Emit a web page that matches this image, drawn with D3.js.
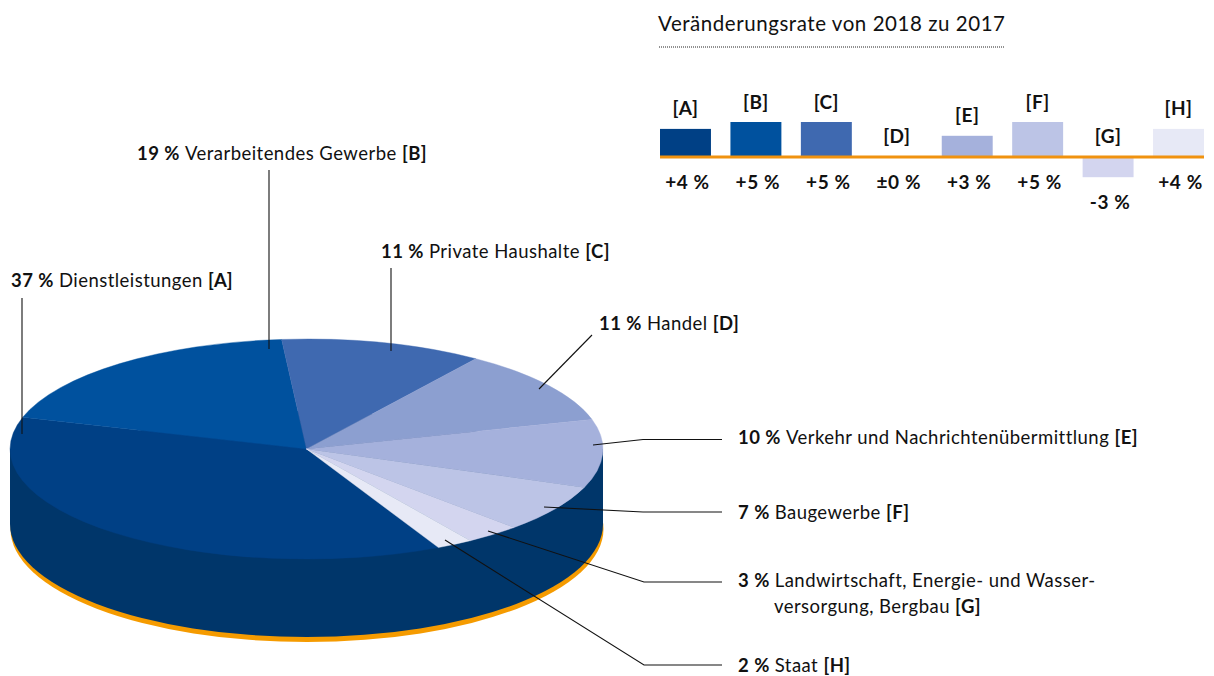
<!DOCTYPE html>
<html><head><meta charset="utf-8">
<script src="https://cdn.jsdelivr.net/npm/d3@7"></script>
<style>
html,body{margin:0;padding:0;background:#fff}
svg{display:block}
text{font-family:Lato,"Open Sans",sans-serif;fill:#111;font-size:18.5px;letter-spacing:0.46px}
</style></head><body>
<svg id="c" width="1214" height="676"></svg>
<script>
const categories=["A","B","C","D","E","F","G","H"];
const shares=[37,19,11,11,10,7,3,2];
const names=["Dienstleistungen","Verarbeitendes Gewerbe","Private Haushalte","Handel","Verkehr und Nachrichtenübermittlung","Baugewerbe","Landwirtschaft, Energie- und Wasser-","Staat"];
const changes=[4,5,5,0,3,5,-3,4];
const changeLabels=["+4 %","+5 %","+5 %","±0 %","+3 %","+5 %","-3 %","+4 %"];
const colors=["#004085","#00519e","#3f69b0","#8c9fd0","#a5b1dc","#bcc4e6","#d3d5ef","#e7e9f6"];
const title="Veränderungsrate von 2018 zu 2017";

const svg=d3.select("#c");
const cx=306.5,cy=449,rx=296.5,ry=110,baseY=524,baseRy=113;
const startDeg=153.6;
const pie=d3.pie().sort(null).value(d=>d).startAngle(startDeg*Math.PI/180).endAngle((startDeg+360)*Math.PI/180);
const arc=d3.arc().innerRadius(0).outerRadius(1);
const full=arc({startAngle:0,endAngle:2*Math.PI});

// base
svg.append("path").attr("d",full).attr("fill","#f59b00")
  .attr("transform",`translate(${cx+0.5},${baseY+5}) scale(${rx},${baseRy})`);
svg.append("path").attr("d",full).attr("fill","#00366a")
  .attr("transform",`translate(${cx},${baseY}) scale(${rx},${baseRy})`);
svg.append("rect").attr("x",cx-rx).attr("y",cy).attr("width",2*rx).attr("height",baseY-cy).attr("fill","#00366a");
// top
svg.append("g").attr("transform",`translate(${cx},${cy}) scale(${rx},${ry})`)
  .selectAll("path").data(pie(shares)).join("path")
  .attr("d",arc).attr("fill",(d,i)=>colors[i]).attr("stroke",(d,i)=>colors[i]).attr("stroke-width",0.002);

// leaders
const leaders=[
 [[22,298],[22,434]],
 [[269,170],[269,349]],
 [[391,268],[391,351]],
 [[592,335],[539,389]],
 [[593,445],[643,439.5],[722,439.5]],
 [[544,507],[643,512],[722,512]],
 [[488,531],[644,582],[722,582]],
 [[445,540],[644,665],[722,665]]];
const line=d3.line();
svg.append("g").selectAll("path").data(leaders).join("path")
  .attr("d",line).attr("fill","none").attr("stroke","#111").attr("stroke-width",1.1);

// pie labels
const labelPos=[[11,286.7],[137,159.7],[381,257.7],[599,329.7],[738,443.7],[738,518.7],[738,586.7],[738,671.7]];
const labels=svg.append("g").selectAll("text").data(categories).join("text")
  .attr("x",(d,i)=>labelPos[i][0]).attr("y",(d,i)=>labelPos[i][1]);
labels.each(function(d,i){
  const t=d3.select(this);
  t.append("tspan").attr("font-weight",700).text(shares[i]+" % ");
  t.append("tspan").text(names[i]+(d==="G"?"":" "));
  if(d!=="G") t.append("tspan").attr("font-weight",700).text("["+d+"]");
});
const g2=svg.append("text").attr("x",774).attr("y",612.7);
g2.append("tspan").text("versorgung, Bergbau ");
g2.append("tspan").attr("font-weight",700).text("[G]");

// title
svg.append("text").attr("x",658).attr("y",31).style("font-size","20.5px").style("letter-spacing","0.55px").text(title);
svg.append("line").attr("x1",659).attr("x2",1005).attr("y1",47).attr("y2",47)
  .attr("stroke","#222").attr("stroke-width",1).attr("stroke-dasharray","1 1");

// bars
const x=d3.scaleBand().domain(categories).range([660,1204]).paddingInner(19.5/70.5);
const y=d3.scaleLinear().domain([0,5]).range([156.5,122]);
svg.append("g").selectAll("rect").data(categories).join("rect")
  .attr("x",d=>x(d)).attr("width",x.bandwidth())
  .attr("y",(d,i)=>Math.min(y(0),y(changes[i])))
  .attr("height",(d,i)=>Math.abs(y(changes[i])-y(0)))
  .attr("fill",(d,i)=>colors[i]);
svg.append("line").attr("x1",x("A")).attr("x2",1204).attr("y1",y(0)+0.5).attr("y2",y(0)+0.5)
  .attr("stroke","#f0920f").attr("stroke-width",3);

svg.append("g").selectAll("text").data(categories).join("text")
  .attr("text-anchor","middle").attr("font-weight",700)
  .attr("x",d=>x(d)+x.bandwidth()/2)
  .attr("y",(d,i)=>changes[i]>0?y(changes[i])-13.5:143)
  .style("font-size","19px")
  .text(d=>"["+d+"]");
svg.append("g").selectAll("text").data(categories).join("text")
  .attr("text-anchor","middle").attr("font-weight",700)
  .attr("x",d=>x(d)+x.bandwidth()/2+2)
  .attr("y",(d,i)=>changes[i]<0?209:189)
  .style("font-size","19px")
  .style("letter-spacing","0.6px")
  .text((d,i)=>changeLabels[i]);
</script></body></html>
